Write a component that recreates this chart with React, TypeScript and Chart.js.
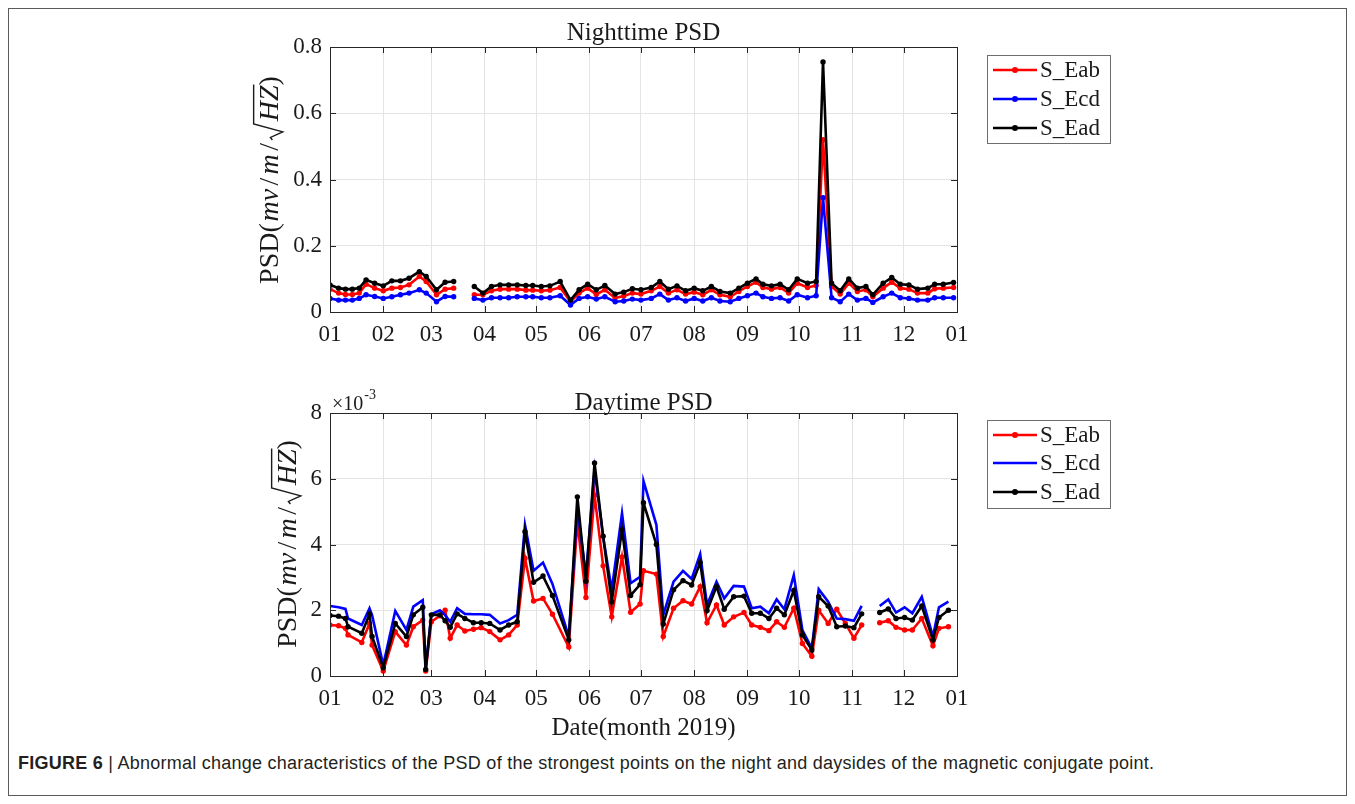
import React, { useEffect, useRef } from "react";
import { Chart, registerables } from "chart.js";
Chart.register(...registerables);

// ---------- data ----------
const monthTicks = [0, 31, 59, 90, 120, 151, 181, 212, 243, 273, 304, 334, 365];
const monthLabels = ["01", "02", "03", "04", "05", "06", "07", "08", "09", "10", "11", "12", "01"];

const nightDays = [0, 5, 9, 13, 17, 21, 26, 31, 36, 41, 46, 52, 56, 62, 67, 72, 78, 84, 89, 94, 99, 104, 109, 114, 118, 123, 128, 134, 140, 145, 150, 155, 160, 166, 171, 176, 181, 187, 192, 197, 202, 207, 212, 217, 222, 227, 233, 238, 243, 248, 252, 257, 262, 267, 272, 278, 283, 287, 292, 297, 302, 307, 312, 316, 322, 327, 332, 337, 342, 348, 352, 357, 363];

const nightEab = [0.069, 0.057, 0.053, 0.053, 0.057, 0.084, 0.072, 0.064, 0.072, 0.074,
  0.082, 0.107, 0.092, 0.052, 0.069, 0.072, null, 0.052, 0.052, 0.064,
  0.069, 0.069, 0.069, 0.066, 0.066, 0.064, 0.066, 0.074, 0.031, 0.057,
  0.072, 0.053, 0.067, 0.042, 0.048, 0.057, 0.054, 0.064, 0.077, 0.057,
  0.067, 0.054, 0.060, 0.052, 0.067, 0.052, 0.046, 0.062, 0.077, 0.090,
  0.074, 0.069, 0.074, 0.057, 0.087, 0.074, 0.080, 0.520, 0.077, 0.054,
  0.087, 0.062, 0.067, 0.046, 0.072, 0.090, 0.072, 0.069, 0.057, 0.057,
  0.070, 0.072, 0.074];

const nightEcd = [0.041, 0.036, 0.036, 0.036, 0.041, 0.052, 0.047, 0.041, 0.046, 0.052,
  0.057, 0.067, 0.057, 0.031, 0.047, 0.046, null, 0.041, 0.036, 0.043,
  0.043, 0.043, 0.046, 0.046, 0.046, 0.043, 0.043, 0.049, 0.021, 0.041,
  0.046, 0.039, 0.046, 0.031, 0.033, 0.039, 0.036, 0.041, 0.054, 0.036,
  0.043, 0.033, 0.041, 0.033, 0.043, 0.033, 0.031, 0.041, 0.049, 0.057,
  0.046, 0.041, 0.043, 0.033, 0.052, 0.043, 0.049, 0.345, 0.043, 0.031,
  0.054, 0.036, 0.041, 0.029, 0.046, 0.057, 0.043, 0.041, 0.036, 0.036,
  0.043, 0.043, 0.043];

const nightEad = [0.082, 0.072, 0.069, 0.069, 0.072, 0.097, 0.087, 0.079, 0.094, 0.094,
  0.102, 0.122, 0.107, 0.067, 0.090, 0.092, null, 0.077, 0.057, 0.077,
  0.082, 0.082, 0.082, 0.080, 0.080, 0.077, 0.079, 0.092, 0.036, 0.067,
  0.084, 0.067, 0.080, 0.054, 0.060, 0.070, 0.067, 0.074, 0.092, 0.069,
  0.079, 0.064, 0.072, 0.064, 0.077, 0.062, 0.057, 0.072, 0.087, 0.100,
  0.084, 0.079, 0.084, 0.067, 0.100, 0.087, 0.092, 0.755, 0.087, 0.064,
  0.100, 0.072, 0.077, 0.052, 0.087, 0.104, 0.084, 0.082, 0.069, 0.072,
  0.084, 0.084, 0.089];

const dayDays = [0, 5, 9, 10.5, 18.5, 23, 24.5, 31, 38, 44.5, 48.5, 54, 55.7, 59, 64, 67, 70, 74, 78.5, 83.5, 88, 93, 99, 104, 109, 113.5, 118.5, 124, 129.5, 139, 144, 149, 154, 159, 164, 170, 175, 180.5, 182.5, 190, 194, 200, 205.5, 210.5, 215.5, 219.5, 225, 229.5, 235, 241, 245.5, 250.5, 255.5, 260, 264.5, 270, 275, 280.5, 284.5, 290, 295, 300, 305, 309.5, 315, 320, 325, 329.5, 334.5, 339, 344.5, 351, 354.5, 360];

// values in units of 1e-3
const dayEab = [1.55, 1.53, 1.45, 1.25, 1.02, 1.60, 0.94, 0.15, 1.35, 0.94,
  1.50, 1.70, 0.15, 1.65, 1.83, 2.00, 1.15, 1.55, 1.37, 1.42,
  1.47, 1.35, 1.10, 1.25, 1.55, 3.58, 2.28, 2.36, 1.88, 0.88,
  4.70, 2.39, 5.50, 3.35, 1.80, 3.62, 1.94, 2.19, 3.20, 3.10,
  1.20, 2.06, 2.29, 2.19, 2.72, 1.62, 2.16, 1.55, 1.80, 1.93,
  1.55, 1.48, 1.38, 1.65, 1.48, 2.06, 0.99, 0.60, 2.00, 1.60,
  2.03, 1.60, 1.15, 1.55, null, 1.62, 1.68, 1.48, 1.40, 1.40,
  1.75, 0.92, 1.45, 1.50];

const dayEcd = [2.13, 2.09, 2.04, 1.75, 1.55, 2.06, 1.85, 0.33, 1.98, 1.40,
  2.11, 2.31, 0.23, 1.88, 2.00, 1.85, 1.65, 2.06, 1.89, 1.88,
  1.88, 1.86, 1.60, 1.70, 1.86, 4.60, 3.20, 3.45, 2.80, 1.20,
  5.10, 3.05, 6.27, 4.24, 2.62, 4.95, 2.82, 3.02, 5.93, 4.60,
  1.86, 2.87, 3.20, 2.95, 3.71, 2.16, 2.87, 2.36, 2.74, 2.72,
  2.06, 2.11, 1.91, 2.33, 2.03, 3.07, 1.40, 0.84, 2.64, 2.26,
  1.75, 1.73, 1.68, 2.13, null, 2.13, 2.33, 1.93, 2.09, 1.91,
  2.41, 1.20, 2.09, 2.26];

const dayEad = [1.84, 1.82, 1.75, 1.50, 1.30, 1.88, 1.20, 0.25, 1.60, 1.20,
  1.86, 2.09, 0.20, 1.86, 1.86, 1.68, 1.48, 1.89, 1.75, 1.62,
  1.62, 1.60, 1.40, 1.55, 1.65, 4.39, 2.85, 3.04, 2.45, 1.10,
  5.45, 2.88, 6.48, 4.25, 2.26, 4.45, 2.45, 2.78, 5.27, 4.00,
  1.58, 2.62, 2.90, 2.77, 3.45, 1.99, 2.72, 2.03, 2.41, 2.43,
  1.91, 1.91, 1.75, 2.06, 1.86, 2.60, 1.25, 0.79, 2.41, 2.13,
  1.50, 1.52, 1.47, 1.89, null, 1.93, 2.04, 1.75, 1.78, 1.70,
  2.13, 1.10, 1.78, 2.00];

const seriesNames = ["S_Eab", "S_Ecd", "S_Ead"];
const seriesColors = ["#ff0000", "#0000ff", "#000000"];

// ---------- drawing helpers ----------
const SERIF = '"Liberation Serif", "Times New Roman", serif';
const INK = "#1a1a1a";

function toPoints(xs: number[], ys: (number | null)[]) {
  return xs.map((x, i) => ({ x, y: ys[i] }));
}

function drawYLabel(ctx: CanvasRenderingContext2D, cx: number, cy: number, size: number) {
  ctx.save();
  ctx.translate(cx, cy);
  ctx.rotate(-Math.PI / 2);
  ctx.fillStyle = INK;
  ctx.strokeStyle = INK;
  ctx.textBaseline = "middle";
  ctx.textAlign = "left";
  const reg = `${size}px ${SERIF}`;
  const ita = `italic ${size}px ${SERIF}`;
  const parts: { t: string; f: string; sp?: number; rad?: boolean; over?: boolean }[] = [
    { t: "PSD(", f: reg },
    { t: "mv", f: ita, sp: 0.06 },
    { t: "/", f: reg, sp: 0.06 },
    { t: "m", f: ita, sp: 0.06 },
    { t: "/", f: reg, sp: 0.06 },
    { t: "", f: reg, rad: true },
    { t: "HZ", f: ita, over: true },
    { t: ")", f: reg },
  ];
  const radW = size * 0.72;
  const widths = parts.map((p) => {
    if (p.rad) return radW;
    ctx.font = p.f;
    return ctx.measureText(p.t).width + (p.sp || 0) * size * 2;
  });
  const total = widths.reduce((a, b) => a + b, 0);
  let x = -total / 2;
  parts.forEach((p, i) => {
    if (p.rad) {
      const top = -size * 0.62;
      ctx.lineWidth = 1.4;
      ctx.beginPath();
      ctx.moveTo(x + size * 0.05, size * 0.05);
      ctx.lineTo(x + size * 0.14, -size * 0.02);
      ctx.lineTo(x + size * 0.34, size * 0.42);
      ctx.lineTo(x + size * 0.62, top);
      ctx.lineTo(x + radW + widths[i + 1] + 1, top);
      ctx.stroke();
    } else {
      ctx.font = p.f;
      ctx.fillText(p.t, x + (p.sp || 0) * size, 0);
    }
    x += widths[i];
  });
  ctx.restore();
}

type Decor = {
  title: string;
  titleY: number;
  yLabel: { x: number; y: number; size: number };
  legend: { x: number; y: number; w: number; h: number; rows: number[]; markers: boolean[] };
  exponent?: { x: number; y: number };
  xLabel?: { text: string; y: number };
};

function makeDecor(d: Decor) {
  return {
    id: "figureDecor",
    afterDraw(chart: any) {
      const ctx: CanvasRenderingContext2D = chart.ctx;
      const a = chart.chartArea;
      const xs = chart.scales.x;
      const ys = chart.scales.y;
      ctx.save();
      // axes box
      ctx.strokeStyle = "#262626";
      ctx.lineWidth = 1;
      ctx.strokeRect(Math.round(a.left) + 0.5, Math.round(a.top) + 0.5, Math.round(a.right - a.left), Math.round(a.bottom - a.top));
      // inward ticks
      ctx.beginPath();
      xs.ticks.forEach((t: any) => {
        const px = Math.round(xs.getPixelForValue(t.value)) + 0.5;
        ctx.moveTo(px, a.bottom);
        ctx.lineTo(px, a.bottom - 6);
        ctx.moveTo(px, a.top);
        ctx.lineTo(px, a.top + 6);
      });
      ys.ticks.forEach((t: any) => {
        const py = Math.round(ys.getPixelForValue(t.value)) + 0.5;
        ctx.moveTo(a.left, py);
        ctx.lineTo(a.left + 6, py);
        ctx.moveTo(a.right, py);
        ctx.lineTo(a.right - 6, py);
      });
      ctx.stroke();
      // title
      ctx.fillStyle = INK;
      ctx.font = `25px ${SERIF}`;
      ctx.textAlign = "center";
      ctx.textBaseline = "middle";
      ctx.fillText(d.title, (a.left + a.right) / 2, d.titleY);
      // x label
      if (d.xLabel) {
        ctx.font = `25px ${SERIF}`;
        ctx.fillText(d.xLabel.text, (a.left + a.right) / 2, d.xLabel.y);
      }
      // exponent
      if (d.exponent) {
        ctx.textAlign = "left";
        ctx.textBaseline = "alphabetic";
        ctx.font = `20px ${SERIF}`;
        const base = "\u00d710";
        ctx.fillText(base, d.exponent.x, d.exponent.y);
        const bw = ctx.measureText(base).width;
        ctx.font = `14px ${SERIF}`;
        ctx.fillText("-3", d.exponent.x + bw + 1, d.exponent.y - 11);
      }
      // y label
      drawYLabel(ctx, d.yLabel.x, d.yLabel.y, d.yLabel.size);
      // legend
      const L = d.legend;
      ctx.fillStyle = "#ffffff";
      ctx.fillRect(L.x, L.y, L.w, L.h);
      ctx.strokeStyle = "#6e6e6e";
      ctx.lineWidth = 1;
      ctx.strokeRect(L.x + 0.5, L.y + 0.5, L.w, L.h);
      L.rows.forEach((ry, i) => {
        ctx.strokeStyle = seriesColors[i];
        ctx.lineWidth = 2.5;
        ctx.beginPath();
        ctx.moveTo(L.x + 6, ry);
        ctx.lineTo(L.x + 50, ry);
        ctx.stroke();
        if (L.markers[i]) {
          ctx.fillStyle = seriesColors[i];
          ctx.beginPath();
          ctx.arc(L.x + 28, ry, 3, 0, Math.PI * 2);
          ctx.fill();
        }
        ctx.fillStyle = INK;
        ctx.font = `23px ${SERIF}`;
        ctx.textAlign = "left";
        ctx.textBaseline = "middle";
        ctx.fillText(seriesNames[i], L.x + 53, ry + 1);
      });
      ctx.restore();
    },
  };
}

function buildConfig(
  xs: number[],
  series: (number | null)[][],
  markers: boolean[],
  yMax: number,
  yStep: number,
  padTop: number,
  xAxisH: number,
  decor: Decor
): any {
  const order = [0, 1, 2];
  return {
    type: "line",
    data: {
      datasets: order.map((i) => ({
        label: seriesNames[i],
        data: toPoints(xs, series[i]),
        borderColor: seriesColors[i],
        backgroundColor: seriesColors[i],
        borderWidth: 2.6,
        pointRadius: markers[i] ? 2.7 : 0,
        pointBorderWidth: 0,
        pointBackgroundColor: seriesColors[i],
        pointHoverRadius: 0,
        tension: 0,
        spanGaps: false,
        fill: false,
        order: 3 - i,
      })),
    },
    options: {
      responsive: false,
      animation: false,
      events: [],
      layout: { padding: { left: 0, right: 173, top: padTop, bottom: 0 } },
      plugins: { legend: { display: false }, tooltip: { enabled: false }, title: { display: false } },
      scales: {
        x: {
          type: "linear",
          min: 0,
          max: 365,
          border: { display: false },
          grid: { color: "#e4e4e4", lineWidth: 1, drawTicks: false },
          afterBuildTicks: (axis: any) => {
            axis.ticks = monthTicks.map((v) => ({ value: v }));
          },
          afterFit: (s: any) => {
            s.height = xAxisH;
          },
          ticks: {
            autoSkip: false,
            maxRotation: 0,
            minRotation: 0,
            padding: 9,
            color: INK,
            font: { family: SERIF, size: 23 },
            callback: (v: number) => {
              const k = monthTicks.indexOf(v);
              return k >= 0 ? monthLabels[k] : "";
            },
          },
        },
        y: {
          min: 0,
          max: yMax,
          border: { display: false },
          grid: { color: "#e4e4e4", lineWidth: 1, drawTicks: false },
          afterFit: (s: any) => {
            s.width = 80;
          },
          ticks: {
            stepSize: yStep,
            padding: 8,
            color: INK,
            font: { family: SERIF, size: 23 },
          },
        },
      },
    },
    plugins: [makeDecor(decor)],
  };
}

function ChartCanvas(props: { config: () => any; left: number; top: number; width: number; height: number }) {
  const ref = useRef<HTMLCanvasElement | null>(null);
  useEffect(() => {
    if (!ref.current) return;
    const chart = new Chart(ref.current, props.config());
    return () => chart.destroy();
  }, []);
  return (
    <canvas
      ref={ref}
      width={props.width}
      height={props.height}
      style={{ position: "absolute", left: props.left, top: props.top, width: props.width, height: props.height }}
    />
  );
}

export default function App() {
  const nightCfg = () =>
    buildConfig(nightDays, [nightEab, nightEcd, nightEad], [true, true, true], 0.8, 0.2, 37, 38, {
      title: "Nighttime PSD",
      titleY: 23,
      yLabel: { x: 21, y: 170, size: 28 },
      legend: { x: 737, y: 45, w: 123, h: 88, rows: [60, 89, 118], markers: [true, true, true] },
    });
  const dayCfg = () =>
    buildConfig(dayDays, [dayEab, dayEcd, dayEad], [true, false, true], 8, 2, 38, 74, {
      title: "Daytime PSD",
      titleY: 28,
      yLabel: { x: 39, y: 169, size: 28 },
      legend: { x: 737, y: 45, w: 123, h: 88, rows: [60, 88, 117], markers: [true, false, true] },
      exponent: { x: 82, y: 35 },
      xLabel: { text: "Date(month 2019)", y: 353 },
    });
  return (
    <div
      style={{
        position: "relative",
        width: 1339,
        height: 788,
        border: "1px solid #5a5a5a",
        boxSizing: "border-box",
        background: "#fff",
      }}
    >
      <ChartCanvas config={nightCfg} left={241} top={1} width={880} height={340} />
      <ChartCanvas config={dayCfg} left={241} top={366} width={880} height={375} />
      <div
        style={{
          position: "absolute",
          left: 9,
          top: 744,
          fontFamily: '"Liberation Sans", Arial, sans-serif',
          fontSize: 18,
          letterSpacing: "0.25px",
          lineHeight: "20px",
          color: "#231f20",
          whiteSpace: "nowrap",
        }}
      >
        <b>FIGURE 6</b> | Abnormal change characteristics of the PSD of the strongest points on the night and daysides of the magnetic conjugate point.
      </div>
    </div>
  );
}
